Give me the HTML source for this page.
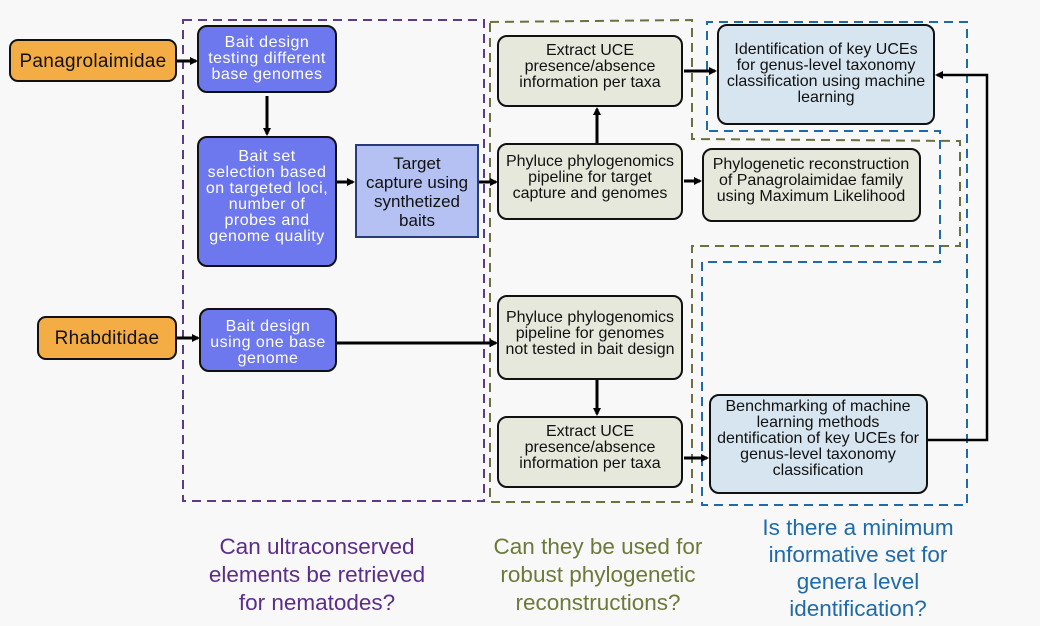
<!DOCTYPE html>
<html><head><meta charset="utf-8"><style>
html,body{margin:0;padding:0;background:#f8f8f8;}
svg{display:block;}
text{font-family:"Liberation Sans",sans-serif;}
</style></head><body>
<svg width="1040" height="626" viewBox="0 0 1040 626" xmlns="http://www.w3.org/2000/svg">
<defs>
<marker id="a" markerWidth="8" markerHeight="8" refX="6" refY="4" orient="auto" markerUnits="userSpaceOnUse"><path d="M0,0 L8,4 L0,8 z" fill="#000"/></marker>
</defs>
<rect width="1040" height="626" fill="#f8f8f8"/>
<rect x="183" y="20" width="301" height="481" fill="none" stroke="#5a3a8a" stroke-width="2" stroke-dasharray="9,6"/>
<path d="M490,22 L692,20 L692,139 L960,141 L960,246 L692,246 L692,502 L490,502 Z" fill="none" stroke="#6b7040" stroke-width="2" stroke-dasharray="9,6"/>
<path d="M707,130 L707,22 L967,22 L967,505 L702,505 L702,262 L940,262 L940,131 L707,131" fill="none" stroke="#1f6aa8" stroke-width="2" stroke-dasharray="9,6"/>
<g stroke="#111" stroke-width="2">
<rect x="10" y="40" width="166" height="41" rx="8" fill="#f4ac45"/>
<rect x="38" y="317" width="138" height="42" rx="8" fill="#f4ac45"/>
<rect x="198" y="26" width="138" height="66" rx="9" fill="#6e78ee"/>
<rect x="198" y="137" width="138" height="129" rx="9" fill="#6e78ee"/>
<rect x="200" y="309" width="136" height="62" rx="9" fill="#6e78ee"/>
<rect x="356" y="145" width="122" height="92" fill="#b4c1f2" stroke="#2a3a7a"/>
<rect x="498" y="36" width="184" height="70" rx="9" fill="#e6e8dc"/>
<rect x="498" y="144" width="184" height="75" rx="9" fill="#e6e8dc"/>
<rect x="498" y="296" width="184" height="83" rx="9" fill="#e6e8dc"/>
<rect x="498" y="417" width="184" height="70" rx="9" fill="#e6e8dc"/>
<rect x="703" y="149" width="217" height="72" rx="9" fill="#e6e8dc"/>
<rect x="718" y="25" width="216" height="99" rx="9" fill="#d6e5ef"/>
<rect x="710" y="395" width="217" height="98" rx="9" fill="#d6e5ef"/>
</g>
<g stroke="#000" stroke-width="3" fill="none" marker-end="url(#a)">
<path d="M177,61 L196,61"/>
<path d="M177,338 L198,338"/>
<path d="M267,96 L267,134"/>
<path d="M337,182 L353,182"/>
<path d="M479,182 L496,182"/>
<path d="M337,343 L496,343"/>
<path d="M597,143 L597,109"/>
<path d="M684,71 L715,71"/>
<path d="M684,181 L700,181"/>
<path d="M597,380 L597,414"/>
<path d="M684,458 L707,458"/>
<path d="M928,440 L987,440 L987,75 L937,75" stroke-width="2.5"/>
</g>
<g font-size="16" letter-spacing="0.5" text-anchor="middle" fill="#fff">
<text x="267" y="47">Bait design</text><text x="267" y="63">testing different</text><text x="267" y="79">base genomes</text>
<text x="267" y="161">Bait set</text><text x="267" y="177">selection based</text><text x="267" y="193">on targeted loci,</text><text x="267" y="209">number of</text><text x="267" y="225">probes and</text><text x="267" y="241">genome quality</text>
<text x="268" y="331">Bait design</text><text x="268" y="347">using one base</text><text x="268" y="363">genome</text>
</g>
<g font-size="19" letter-spacing="0.3" text-anchor="middle" fill="#111">
<text x="93" y="67">Panagrolaimidae</text>
<text x="107" y="344">Rhabditidae</text>
</g>
<g font-size="17" text-anchor="middle" fill="#111">
<text x="417" y="169">Target</text><text x="417" y="188">capture using</text><text x="417" y="207">synthetized</text><text x="417" y="226">baits</text>
</g>
<g font-size="16" text-anchor="middle" fill="#111">
<text x="590" y="55">Extract UCE</text><text x="590" y="71">presence/absence</text><text x="590" y="87">information per taxa</text>
<text x="590" y="166">Phyluce phylogenomics</text><text x="590" y="182">pipeline for target</text><text x="590" y="198">capture and genomes</text>
<text x="590" y="322">Phyluce phylogenomics</text><text x="590" y="338">pipeline for genomes</text><text x="590" y="354">not tested in bait design</text>
<text x="590" y="436">Extract UCE</text><text x="590" y="452">presence/absence</text><text x="590" y="468">information per taxa</text>
<text x="811" y="169">Phylogenetic reconstruction</text><text x="811" y="185">of Panagrolaimidae family</text><text x="811" y="201">using Maximum Likelihood</text>
<text x="826" y="54">Identification of key UCEs</text><text x="826" y="70">for genus-level taxonomy</text><text x="826" y="86">classification using machine</text><text x="826" y="102">learning</text>
<text x="818" y="411">Benchmarking of machine</text><text x="818" y="427">learning methods</text><text x="818" y="443">dentification of key UCEs for</text><text x="818" y="459">genus-level taxonomy</text><text x="818" y="475">classification</text>
</g>
<g font-size="22.5" text-anchor="middle">
<g fill="#5b2d8a"><text x="317" y="554">Can ultraconserved</text><text x="317" y="582">elements be retrieved</text><text x="317" y="610">for nematodes?</text></g>
<g fill="#6b7a3a"><text x="598" y="554">Can they be used for</text><text x="598" y="582">robust phylogenetic</text><text x="598" y="610">reconstructions?</text></g>
<g fill="#1f6aa8"><text x="858" y="535">Is there a minimum</text><text x="858" y="562">informative set for</text><text x="858" y="589">genera level</text><text x="858" y="616">identification?</text></g>
</g>
</svg>
</body></html>
